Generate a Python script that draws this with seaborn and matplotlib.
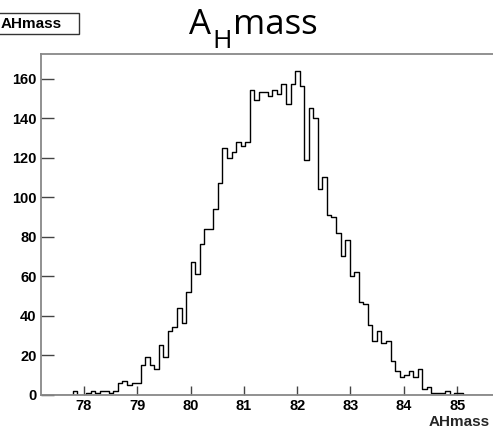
import numpy as np
import pandas as pd
import matplotlib
matplotlib.use('Agg')
import matplotlib.pyplot as plt
import matplotlib.patches as mpatches
from matplotlib.ticker import MultipleLocator
import seaborn as sns

# histogram definition
x_min = 77.19
x_max = 85.71
n_bins = 100
counts = [
    0, 0, 0, 0, 0, 0, 0, 2, 0, 0,
    1, 2, 1, 2, 2, 1, 2, 6, 7, 5,
    6, 6, 15, 19, 15, 13, 25, 19, 32, 34,
    44, 36, 52, 67, 61, 76, 84, 84, 94, 107,
    125, 120, 123, 128, 126, 128, 154, 149, 153, 153,
    151, 154, 152, 157, 147, 157, 164, 156, 119, 145,
    140, 104, 110, 91, 90, 82, 70, 78, 60, 62,
    47, 46, 35, 27, 32, 26, 27, 17, 12, 9,
    10, 12, 9, 13, 3, 4, 1, 1, 1, 2,
    0, 1, 1, 0, 0, 0, 0, 0, 0, 0,
]
x_ticks = [78, 79, 80, 81, 82, 83, 84, 85]
y_ticks = [0, 20, 40, 60, 80, 100, 120, 140, 160]
title_parts = ['A', 'H', 'mass']   # A, subscript H, mass
var_name = 'AHmass'

width = (x_max - x_min) / n_bins
df = pd.DataFrame({
    'AHmass': x_min + width * (np.arange(n_bins) + 0.5),
    'entries': counts,
})

sns.set_theme(style='white')
plt.rcParams['font.family'] = ['Liberation Sans', 'DejaVu Sans']
plt.rcParams['text.color'] = 'black'

W, H = 493, 433
fig = plt.figure(figsize=(W / 100, H / 100), dpi=100)
ax = fig.add_axes([40.7 / W, 38.5 / H, (495 - 40.7) / W, 341 / H])

sns.histplot(data=df, x='AHmass', weights='entries', bins=n_bins,
             binrange=(x_min, x_max), element='step', fill=False,
             color='black', linewidth=1.0, ax=ax)

ax.set_xlim(x_min, x_max)
ax.set_ylim(0, 172.7)
ax.set_xticks(x_ticks)
ax.set_yticks(y_ticks)
ax.xaxis.set_minor_locator(MultipleLocator(0.2))
ax.yaxis.set_minor_locator(MultipleLocator(5))
ax.tick_params(axis='both', which='both', direction='in', colors='#444444',
               labelcolor='black', width=1.0)
ax.tick_params(axis='x', which='major', length=6.7, pad=3.5)
ax.tick_params(axis='x', which='minor', length=3.2)
ax.tick_params(axis='y', which='major', length=9.0, pad=3)
ax.tick_params(axis='y', which='minor', length=5.5)
ax.tick_params(bottom=True, left=True, top=False, right=False)
for lab in ax.get_xticklabels() + ax.get_yticklabels():
    lab.set_fontweight('bold')
    lab.set_fontsize(10.5)

for sp in ax.spines.values():
    sp.set_color('#888888')
    sp.set_linewidth(1.3)

ax.set_ylabel('')
ax.set_xlabel(var_name, fontsize=11, fontweight='bold', ha='right')
ax.xaxis.set_label_coords((490 - 40.7) / (495 - 40.7), -20 / 341)

# title: A, lowered H, mass placed one after the other
renderer = fig.canvas.get_renderer()
x_px = 189
t = fig.text(x_px / W, 1 - 34 / H, title_parts[0], fontsize=25,
             family='Open Sans', ha='left', va='baseline')
x_px += t.get_window_extent(renderer).width + 1
t = fig.text(x_px / W, 1 - 48 / H, title_parts[1], fontsize=19,
             family='Open Sans', ha='left', va='baseline')
x_px += t.get_window_extent(renderer).width + 1
fig.text(x_px / W, 1 - 34 / H, title_parts[2], fontsize=25,
         family='Open Sans', ha='left', va='baseline')

# ROOT-style title box in the corner
fig.patches.append(mpatches.Rectangle((-14 / W, 1 - 34.3 / H), 92.7 / W, 21.6 / H,
                                      transform=fig.transFigure, facecolor='white',
                                      edgecolor='#333333', linewidth=1.0))
fig.text(1 / W, 1 - 23.5 / H, var_name, fontsize=11, fontweight='bold',
         ha='left', va='center')

fig.savefig('out.png', dpi=100)
